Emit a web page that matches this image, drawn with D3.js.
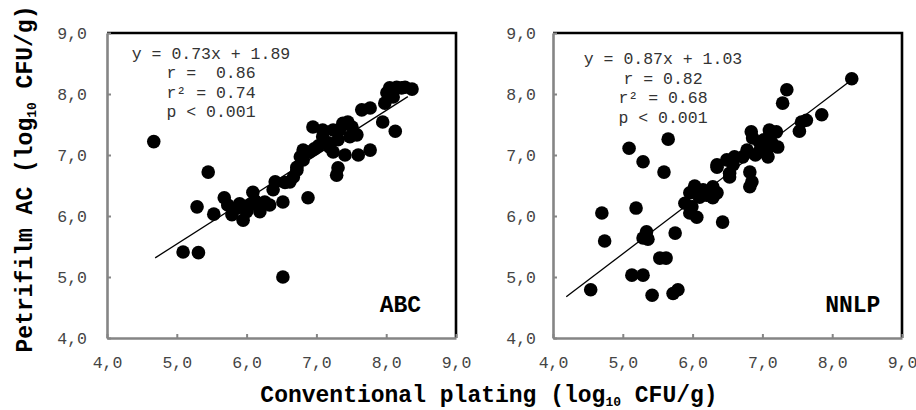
<!DOCTYPE html>
<html>
<head>
<meta charset="utf-8">
<script src="https://cdn.jsdelivr.net/npm/d3@7"></script>
<style>
  body { margin: 0; background: #fff; }
  text { font-family: "Courier New", "Liberation Mono", monospace; }
</style>
</head>
<body>
<div id="chart"></div>
<script>
// data (log10 CFU/g)
var abcX = [4.67, 5.09, 5.31, 5.29, 5.45, 5.53, 5.68, 5.73, 5.79, 5.86, 5.90, 5.95, 6.00, 6.02, 6.05, 6.09, 6.12, 6.19, 6.22, 6.26,
            6.33, 6.38, 6.41, 6.52, 6.52, 6.55, 6.62, 6.67, 6.72, 6.72, 6.77, 6.81, 6.81, 6.88, 6.90, 6.95, 6.97, 7.03, 7.09, 7.09,
            7.12, 7.17, 7.19, 7.24, 7.24, 7.29, 7.31, 7.31, 7.33, 7.38, 7.41, 7.45, 7.48, 7.51, 7.58, 7.60, 7.65, 7.77, 7.77, 7.95,
            7.98, 8.01, 8.05, 8.10, 8.13, 8.15, 8.22, 8.27, 8.37];
var abcY = [7.22, 5.41, 5.40, 6.15, 6.72, 6.03, 6.30, 6.18, 6.02, 6.13, 6.20, 5.93, 6.07, 6.15, 6.18, 6.39, 6.25, 6.07, 6.20, 6.23,
            6.18, 6.43, 6.56, 6.23, 5.00, 6.55, 6.56, 6.64, 6.75, 6.80, 6.97, 6.92, 7.08, 6.30, 7.05, 7.46, 7.10, 7.15, 7.30, 7.41,
            7.20, 7.20, 7.13, 7.05, 7.41, 6.67, 6.79, 7.25, 7.41, 7.52, 7.00, 7.54, 7.30, 7.46, 7.33, 7.00, 7.74, 7.77, 7.08, 7.54,
            7.85, 8.02, 8.10, 7.95, 7.39, 8.11, 8.10, 8.11, 8.08];

var nnlpX = [4.54, 4.70, 4.74, 5.09, 5.13, 5.19, 5.29, 5.29, 5.29, 5.34, 5.36, 5.42, 5.53, 5.59, 5.62, 5.65, 5.72, 5.75, 5.79, 5.89,
             5.96, 5.96, 5.99, 6.03, 6.06, 6.10, 6.15, 6.20, 6.29, 6.29, 6.35, 6.35, 6.35, 6.43, 6.49, 6.53, 6.53, 6.58, 6.60, 6.72,
             6.78, 6.82, 6.82, 6.85, 6.84, 6.86, 6.90, 6.95, 6.96, 7.00, 7.02, 7.06, 7.08, 7.10, 7.13, 7.20, 7.22, 7.29, 7.35, 7.53,
             7.56, 7.63, 7.85, 8.28];
var nnlpY = [4.79, 6.05, 5.59, 7.11, 5.03, 6.13, 5.03, 5.64, 6.89, 5.74, 5.62, 4.70, 5.31, 6.72, 5.31, 7.26, 4.73, 5.72, 4.79, 6.21,
             6.05, 6.38, 6.15, 6.49, 5.98, 6.31, 6.43, 6.34, 6.30, 6.48, 6.38, 6.80, 6.84, 5.90, 6.92, 6.64, 6.70, 6.84, 6.97, 6.97,
             7.08, 6.72, 6.48, 6.56, 7.38, 7.28, 7.00, 7.05, 7.20, 7.10, 7.25, 7.08, 6.97, 7.41, 7.21, 7.38, 7.13, 7.85, 8.07, 7.39,
             7.54, 7.57, 7.66, 8.25];

var ticks = [4, 5, 6, 7, 8, 9];
var tickLabels = ["4,0", "5,0", "6,0", "7,0", "8,0", "9,0"];

// regression: [slope, intercept] and x-span of the drawn line
var abcFit = [0.73, 1.89], abcFitSpan = [4.69, 8.31];
var nnlpFit = [0.87, 1.03], nnlpFitSpan = [4.19, 8.29];

var abcStats = ["y = 0.73x + 1.89", "r =  0.86", "r\u00b2 = 0.74", "p < 0.001"];
var nnlpStats = ["y = 0.87x + 1.03", "r = 0.82", "r\u00b2 = 0.68", "p < 0.001"];

var W = 916, H = 410;

var svg = d3.select("#chart")
    .append("svg")
    .attr("width", W)
    .attr("height", H);

function drawPanel(opt) {
    var x = d3.scaleLinear().domain([4, 9]).range([opt.left, opt.right]);
    var y = d3.scaleLinear().domain([4, 9]).range([338, 33]);

    var g = svg.append("g");

    // points
    g.append("g")
        .selectAll("circle")
        .data(opt.xs)
        .enter().append("circle")
        .attr("cx", function (d) { return x(d); })
        .attr("cy", function (d, i) { return y(opt.ys[i]); })
        .attr("r", 6.8)
        .attr("fill", "#000");

    // fit line
    var line = d3.line()
        .x(function (d) { return x(d); })
        .y(function (d) { return y(opt.fit[0] * d + opt.fit[1]); });
    g.append("path")
        .datum(opt.span)
        .attr("d", line)
        .attr("fill", "none")
        .attr("stroke", "#000")
        .attr("stroke-width", 1.3);

    // top / right frame (black)
    g.append("path")
        .attr("d", "M" + x(4) + "," + y(9) + "H" + x(9) + "V" + y(4))
        .attr("fill", "none")
        .attr("stroke", "#000")
        .attr("stroke-width", 2.6);

    // axes (grey, ticks pointing inward)
    var xAxis = g.append("g")
        .attr("transform", "translate(0," + y(4) + ")")
        .call(d3.axisBottom(x).tickValues(ticks).tickSizeInner(-4).tickSizeOuter(0).tickPadding(18)
            .tickFormat(function (d, i) { return tickLabels[i]; }));
    var yAxis = g.append("g")
        .attr("transform", "translate(" + x(4) + ",0)")
        .call(d3.axisLeft(y).tickValues(ticks).tickSizeInner(-4).tickSizeOuter(0).tickPadding(opt.yPad)
            .tickFormat(function (d, i) { return tickLabels[i]; }));

    [xAxis, yAxis].forEach(function (a) {
        a.select(".domain").attr("stroke", "#858585").attr("stroke-width", 2.6);
        a.selectAll(".tick line").attr("stroke", "#858585").attr("stroke-width", 2);
        a.selectAll(".tick text")
            .style("font-family", "'Courier New', 'Liberation Mono', monospace")
            .style("font-size", "16.5px")
            .attr("fill", "#444");
    });

    // stats block
    g.append("g").selectAll("text")
        .data(opt.stats)
        .enter().append("text")
        .attr("x", opt.statX)
        .attr("y", function (d, i) { return opt.statY + i * opt.statStep; })
        .attr("text-anchor", "middle")
        .style("white-space", "pre")
        .style("font-size", "16.5px")
        .attr("fill", "#333")
        .text(function (d) { return d; });

    // panel name
    g.append("text")
        .attr("x", x(opt.nameAt[0]))
        .attr("y", y(opt.nameAt[1]))
        .attr("text-anchor", "end")
        .style("font-size", "23px")
        .style("font-weight", "bold")
        .text(opt.name);
}

drawPanel({ left: 107, right: 456, xs: abcX, ys: abcY, fit: abcFit, span: abcFitSpan,
            stats: abcStats, statX: 211, statY: 59, statStep: 19.3, yPad: 20,
            name: "ABC", nameAt: [8.5, 4.42] });
drawPanel({ left: 553, right: 902, xs: nnlpX, ys: nnlpY, fit: nnlpFit, span: nnlpFitSpan,
            stats: nnlpStats, statX: 663, statY: 64, statStep: 19.5, yPad: 17,
            name: "NNLP", nameAt: [8.69, 4.42] });

// axis titles
var xt = svg.append("text")
    .attr("x", 489)
    .attr("y", 402)
    .attr("text-anchor", "middle")
    .style("font-size", "23px")
    .style("font-weight", "bold");
xt.append("tspan").text("Conventional plating (log");
xt.append("tspan").attr("dy", 4).style("font-size", "13px").text("10");
xt.append("tspan").attr("dy", -4).text(" CFU/g)");

var yt = svg.append("text")
    .attr("transform", "translate(32,179) rotate(-90)")
    .attr("text-anchor", "middle")
    .style("font-size", "23px")
    .style("font-weight", "bold");
yt.append("tspan").text("Petrifilm AC (log");
yt.append("tspan").attr("dy", 4).style("font-size", "13px").text("10");
yt.append("tspan").attr("dy", -4).text(" CFU/g)");
</script>
</body>
</html>
